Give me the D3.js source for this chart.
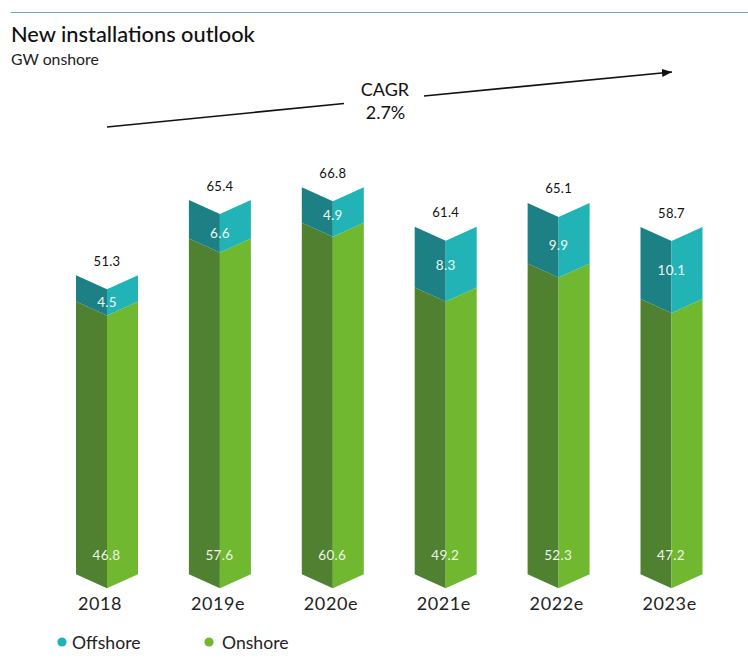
<!DOCTYPE html>
<html><head><meta charset="utf-8">
<script src="https://cdn.jsdelivr.net/npm/d3@7"></script>
<style>html,body{margin:0;background:#fff}text{font-family:Lato,"Open Sans",sans-serif}</style>
</head><body><div id="c"></div>
<script>
const categories=["2018","2019e","2020e","2021e","2022e","2023e"];
const onshoreLabels=[46.8,57.6,60.6,49.2,52.3,47.2];
const offshoreLabels=[4.5,6.6,4.9,8.3,9.9,10.1];
const totalLabels=[51.3,65.4,66.8,61.4,65.1,58.7];
// drawn segment heights (the source bars are not proportional to their labels)
const onshoreDrawn=[46.8,57.6,60.3,49.2,53.3,47.2];
const offshoreDrawn=[4.5,6.6,6.1,10.4,10.4,12.35];
const W=748,H=660;
const svg=d3.select("#c").append("svg").attr("width",W).attr("height",H).style("display","block");
const xs=d3.scalePoint().domain(categories).range([107,671.5]);
const y=d3.scaleLinear().domain([0,70]).range([574.3,574.3-70*5.83]);
const hw=31,dip=14;
const colors={on:["#4f8131","#6fb82f"],off:["#1c8084","#21b3b6"]};
function face(cx,v0,v1,side){
  const a=side<0?cx-hw:cx+hw;
  return `M${a},${y(v0)}L${cx},${y(v0)+dip}L${cx},${y(v1)+dip}L${a},${y(v1)}Z`;
}
categories.forEach((c,i)=>{
  const cx=xs(c),on=onshoreDrawn[i],top=on+offshoreDrawn[i];
  const g=svg.append("g");
  g.append("path").attr("d",face(cx,0,on,-1)).attr("fill",colors.on[0]);
  g.append("path").attr("d",face(cx,0,on,1)).attr("fill",colors.on[1]);
  g.append("path").attr("d",face(cx,on,top,-1)).attr("fill",colors.off[0]);
  g.append("path").attr("d",face(cx,on,top,1)).attr("fill",colors.off[1]);
  g.append("text").attr("x",cx).attr("y",y(top)-9.5).attr("text-anchor","middle").attr("font-size",13).attr("letter-spacing",0.3).attr("fill","#111").text(totalLabels[i].toFixed(1));
  g.append("text").attr("x",cx).attr("y",y(top)+dip+(y(0)-y(offshoreLabels[i]))/2+4.5).attr("text-anchor","middle").attr("font-size",13.5).attr("letter-spacing",0.3).attr("fill","#eafbf5").text(offshoreLabels[i].toFixed(1));
  g.append("text").attr("x",cx-0.5).attr("y",559.5).attr("text-anchor","middle").attr("font-size",13.5).attr("letter-spacing",0.3).attr("fill","#eef8e2").text(onshoreLabels[i].toFixed(1));
  g.append("text").attr("x",cx-29).attr("y",610).attr("font-size",18).attr("letter-spacing",0.6).attr("fill","#222").text(c);
});
svg.append("line").attr("x1",11).attr("x2",W).attr("y1",12.5).attr("y2",12.5).attr("stroke","#6ea3ad").attr("stroke-width",1);
svg.append("text").attr("x",11).attr("y",42).attr("font-size",21.8).attr("font-weight",500).attr("fill","#111").text("New installations outlook");
svg.append("text").attr("x",11).attr("y",65).attr("font-size",15.8).attr("fill","#222").text("GW onshore");
// CAGR arrow
svg.append("defs").append("marker").attr("id","ah").attr("viewBox","0 0 10 8").attr("refX",10).attr("refY",4).attr("markerWidth",10).attr("markerHeight",8).attr("markerUnits","userSpaceOnUse").attr("orient","auto")
 .append("path").attr("d","M0,0L10,4L0,8Z").attr("fill","#111");
svg.append("line").attr("x1",107).attr("y1",127).attr("x2",344).attr("y2",103.5).attr("stroke","#111").attr("stroke-width",1.6);
svg.append("line").attr("x1",424).attr("y1",96).attr("x2",672).attr("y2",72).attr("stroke","#111").attr("stroke-width",1.6).attr("marker-end","url(#ah)");
svg.append("text").attr("x",385).attr("y",96).attr("text-anchor","middle").attr("font-size",18).attr("fill","#111").text("CAGR");
svg.append("text").attr("x",385.5).attr("y",119).attr("text-anchor","middle").attr("font-size",18).attr("fill","#111").text("2.7%");
// legend
const legendItems=[["Offshore",colors.off[1],62,72],["Onshore",colors.on[1],209,222]];
legendItems.forEach(([t,col,lx,tx])=>{
  svg.append("circle").attr("cx",lx).attr("cy",642).attr("r",4.6).attr("fill",col);
  svg.append("text").attr("x",tx).attr("y",649).attr("font-size",17.6).attr("fill","#222").text(t);
});
</script></body></html>
